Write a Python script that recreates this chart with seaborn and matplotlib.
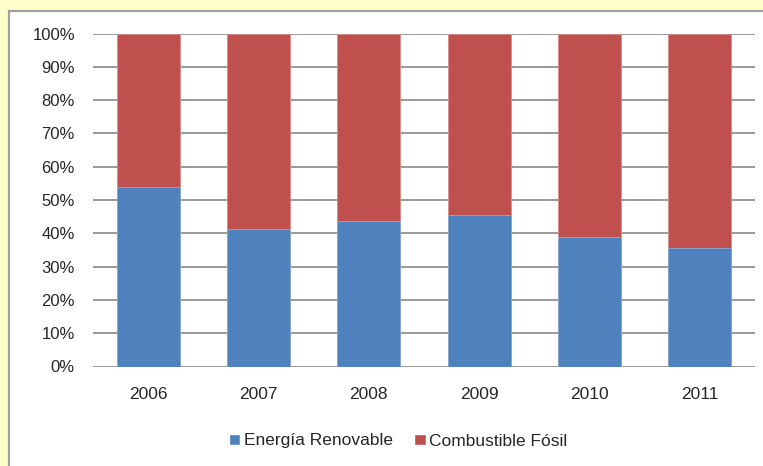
import pandas as pd
import numpy as np
import matplotlib
matplotlib.use("Agg")
import matplotlib.pyplot as plt
import seaborn as sns
from matplotlib.patches import Patch, Rectangle

# data (share of total, %)
years = ["2006", "2007", "2008", "2009", "2010", "2011"]
renovable = [53.8, 41.2, 43.7, 45.5, 38.8, 35.5]
fosil = [46.2, 58.8, 56.3, 54.5, 61.2, 64.5]
y_ticks = [0, 10, 20, 30, 40, 50, 60, 70, 80, 90, 100]

blue = "#4F81BD"
red = "#C0504D"
grid_c = "#9A9A9A"

df = pd.DataFrame({"year": years, "renovable": renovable, "fosil": fosil})
df["total"] = df["renovable"] + df["fosil"]

sns.set_style("white")
plt.rcParams["font.family"] = ["Liberation Sans", "DejaVu Sans"]

fig = plt.figure(figsize=(7.63, 4.66), dpi=100)
fig.patch.set_facecolor("#FFFFCC")
# white chart area with grey frame, as in the spreadsheet export
fig.patches.append(Rectangle((9 / 763, -0.05), 1.0, 1 - 11 / 466 + 0.05,
                             transform=fig.transFigure, facecolor="white",
                             edgecolor="#A0A0A0", linewidth=1.6, zorder=-10))

ax = fig.add_axes([93 / 763, 1 - 366.5 / 466, 662 / 763, 333 / 466])
ax.set_facecolor("none")
ax.set_zorder(5)

sns.barplot(data=df, x="year", y="total", color=red, width=0.57, ax=ax,
            saturation=1, edgecolor="#D98C8A", linewidth=0.6, zorder=3)
sns.barplot(data=df, x="year", y="renovable", color=blue, width=0.57, ax=ax,
            saturation=1, edgecolor="#8AAAD3", linewidth=0.6, zorder=3)

ax.set_ylim(0, 100)
ax.set_xlim(-0.5, 5.5)
ax.set_yticks(y_ticks)
ax.set_yticklabels([f"{v}%" for v in y_ticks])
ax.set_xlabel("")
ax.set_ylabel("")
for v in y_ticks:
    ax.axhline(v, color=grid_c, linewidth=1.4, zorder=1)
for s in ax.spines.values():
    s.set_visible(False)
ax.tick_params(axis="y", length=0, pad=13, labelsize=12)
ax.tick_params(axis="x", length=0, pad=15, labelsize=12.5)

handles = [Patch(facecolor=blue, label="Energía Renovable"),
           Patch(facecolor=red, label="Combustible Fósil")]
fig.legend(handles=handles, loc="center", bbox_to_anchor=(398 / 763, 1 - 441 / 466),
           ncol=2, frameon=False, fontsize=12.5, handlelength=0.65,
           handleheight=0.65, handletextpad=0.2, columnspacing=1.25)

fig.savefig("out.png", dpi=100, facecolor=fig.get_facecolor())
